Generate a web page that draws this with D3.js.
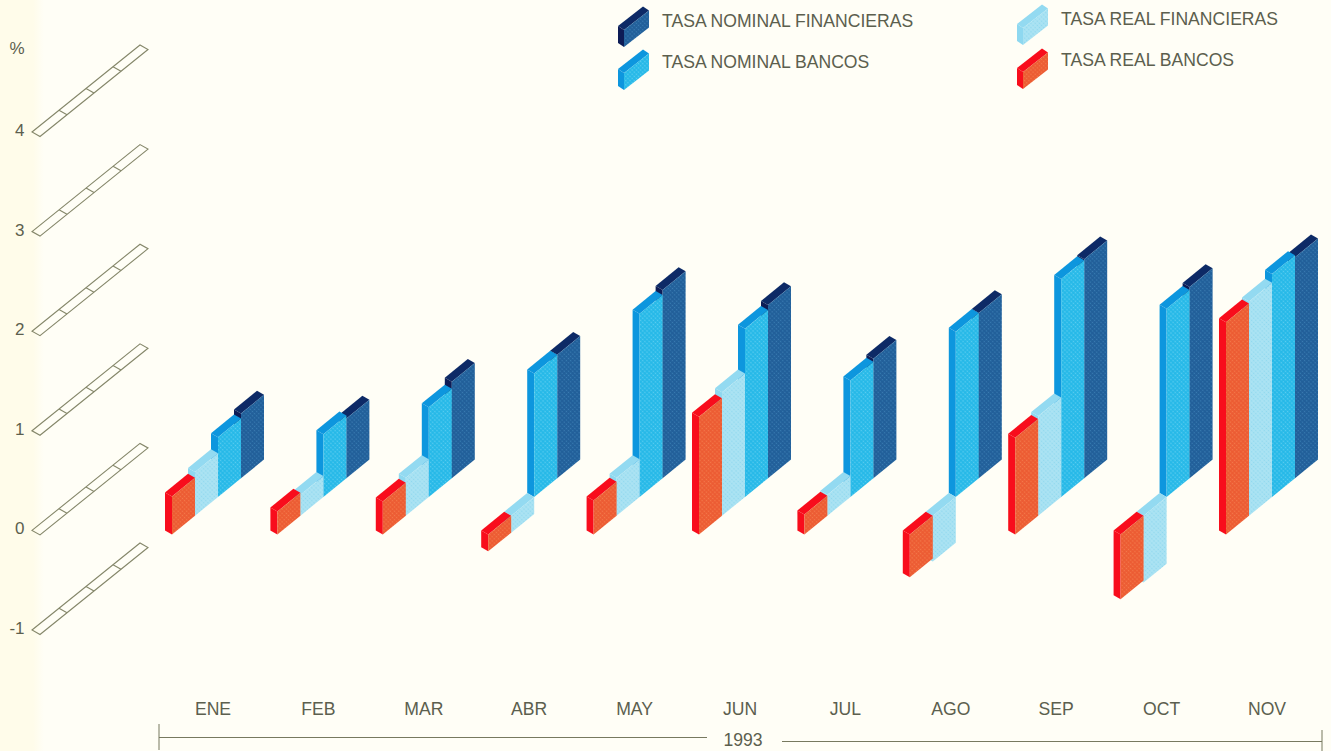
<!DOCTYPE html>
<html><head><meta charset="utf-8">
<script src="https://cdn.jsdelivr.net/npm/d3@7/dist/d3.min.js"></script>
<style>html,body{margin:0;padding:0;background:#fffef6;overflow:hidden}
text{font-family:"Liberation Sans",Arial,sans-serif;fill:#5c5f4e}</style>
</head><body><svg id="c" width="1331" height="751"></svg>
<script>
const months=["ENE","FEB","MAR","ABR","MAY","JUN","JUL","AGO","SEP","OCT","NOV"];
const realBancos=[0.38,0.23,0.33,-0.17,0.34,1.18,0.2,-0.43,0.97,-0.65,2.13];
const realFinancieras=[0.44,0.21,0.38,-0.17,0.38,1.24,0.21,-0.46,1.0,-0.67,2.15];
const nominalBancos=[0.6,0.63,0.9,1.24,1.84,1.69,1.17,1.66,2.19,1.89,2.24];
const nominalFinancieras=[0.65,0.6,0.97,1.24,1.89,1.74,1.2,1.66,2.2,1.92,2.22];
const yTicks=[-1,0,1,2,3,4];
const seriesNames=["TASA REAL BANCOS","TASA REAL FINANCIERAS","TASA NOMINAL BANCOS","TASA NOMINAL FINANCIERAS"];
const seriesValues=[realBancos,realFinancieras,nominalBancos,nominalFinancieras];
const colors=[
 {front:"#ec5b33",dot:"#f47a4a",side:"#f80f1c",top:"#f80f1c"},
 {front:"#abe3f3",dot:"#8fd8ee",side:"#8ed8f0",top:"#93daf1"},
 {front:"#27b9e8",dot:"#5ccdf0",side:"#0e96de",top:"#0e96de"},
 {front:"#215f99",dot:"#3a7cb2",side:"#0a1c56",top:"#0c2a66"}];

const svg=d3.select("#c");
const defs=svg.append("defs");
const grad=defs.append("linearGradient").attr("id","edge");
grad.append("stop").attr("offset","0").attr("stop-color","#fffcea");
grad.append("stop").attr("offset","0.75").attr("stop-color","#fffcea");
grad.append("stop").attr("offset","1").attr("stop-color","#fffef6");
defs.append("filter").attr("id","soft").append("feGaussianBlur").attr("stdDeviation",0.4);
colors.forEach((c,i)=>{
  const p=defs.append("pattern").attr("id","tex"+i).attr("width",3).attr("height",3)
    .attr("patternUnits","userSpaceOnUse").attr("patternTransform","rotate(45)");
  p.append("rect").attr("width",3).attr("height",3).attr("fill",c.front);
  p.append("circle").attr("cx",1.5).attr("cy",1.5).attr("r",0.8).attr("fill",c.dot);
});
svg.append("rect").attr("width",1331).attr("height",751).attr("fill","#fffef6");
svg.append("rect").attr("width",44).attr("height",751).attr("fill","url(#edge)");

const y=d3.scaleLinear().domain([-1,4]).range([630,132]);
const x=d3.scalePoint().domain(months).range([165,1219]);
const off=d3.scaleLinear().domain([0,1]).range([0,23]);
const rise=d3.scaleLinear().domain([0,1]).range([0,-18.7]);
const depth={dx:7,dy:4};
const line=d3.line();

function drawBlock(g,x0,hi,lo,w,r,d,c,i){
  const fx=x0+d.dx, fy=d.dy;
  g.append("path").attr("fill",c.side).attr("d",line([[x0,hi],[fx,hi+fy],[fx,lo+fy],[x0,lo]])+"Z");
  g.append("path").attr("fill",c.top).attr("d",line([[x0,hi],[x0+w,hi+r],[fx+w,hi+r+fy],[fx,hi+fy]])+"Z");
  g.append("path").attr("fill","url(#tex"+i+")").attr("d",line([[fx,hi+fy],[fx+w,hi+r+fy],[fx+w,lo+r+fy],[fx,lo+fy]])+"Z");
}

// axis plates
const plates=svg.append("g").attr("fill","none").attr("stroke","#85876a").attr("stroke-width",1.1);
const plateX=d3.scaleLinear().domain([0,4]).range([32,140]);
const plateY=d3.scaleLinear().domain([0,4]).range([0,-87]);
yTicks.forEach(t=>{
  const y0=y(t), pd={dx:8,dy:4.5};
  plates.append("path").attr("d",line([[plateX(0),y0],[plateX(4),y0+plateY(4)],[plateX(4)+pd.dx,y0+plateY(4)+pd.dy],[plateX(0)+pd.dx,y0+pd.dy]])+"Z");
  [1,2,3].forEach(k=>plates.append("path").attr("d",line([[plateX(k),y0+plateY(k)],[plateX(k)+pd.dx,y0+plateY(k)+pd.dy]])));
  svg.append("text").attr("x",24.5).attr("y",y(t)+4).attr("text-anchor","end").attr("font-size",17).text(t);
});
svg.append("text").attr("x",17).attr("y",54).attr("text-anchor","middle").attr("font-size",17).text("%");

// bars: back to front
const bars=svg.append("g").attr("filter","url(#soft)");
months.forEach((m,mi)=>{
  for(let s=3;s>=0;s--){
    const v=seriesValues[s][mi];
    const dy=rise(s);
    drawBlock(bars,x(m)+off(s),y(Math.max(v,0))+dy,y(Math.min(v,0))+dy,off(1),rise(1),depth,colors[s],s);
  }
});

// month labels
months.forEach(m=>svg.append("text").attr("x",x(m)+48).attr("y",715).attr("text-anchor","middle").attr("font-size",17.6).text(m));

// year axis
const ax=svg.append("g").attr("stroke","#77795f").attr("stroke-width",1);
ax.append("line").attr("x1",159).attr("x2",707).attr("y1",737.5).attr("y2",737.5);
ax.append("line").attr("x1",782).attr("x2",1322).attr("y1",741.5).attr("y2",741.5);
ax.append("line").attr("x1",159).attr("x2",159).attr("y1",724).attr("y2",750);
ax.append("line").attr("x1",1322).attr("x2",1322).attr("y1",730).attr("y2",751);
svg.append("text").attr("x",743).attr("y",746).attr("text-anchor","middle").attr("font-size",17.6).text("1993");

// legend
const legendItems=[
 {s:3,bx:618,by:43,tx:662,ty:27},
 {s:2,bx:618,by:86,tx:662,ty:68},
 {s:1,bx:1017,by:41,tx:1061,ty:25},
 {s:0,bx:1017,by:85,tx:1061,ty:66}];
const sh=d3.scaleLinear().domain([0,1]).range([0,100]);
const swatchValue=0.17;
const legendG=svg.append("g").attr("filter","url(#soft)");
legendItems.forEach(l=>{
  drawBlock(legendG,l.bx,l.by-sh(swatchValue),l.by,25,-19.5,{dx:6,dy:4},colors[l.s],l.s);
  svg.append("text").attr("x",l.tx).attr("y",l.ty).attr("font-size",17.6).text(seriesNames[l.s]);
});
</script></body></html>
